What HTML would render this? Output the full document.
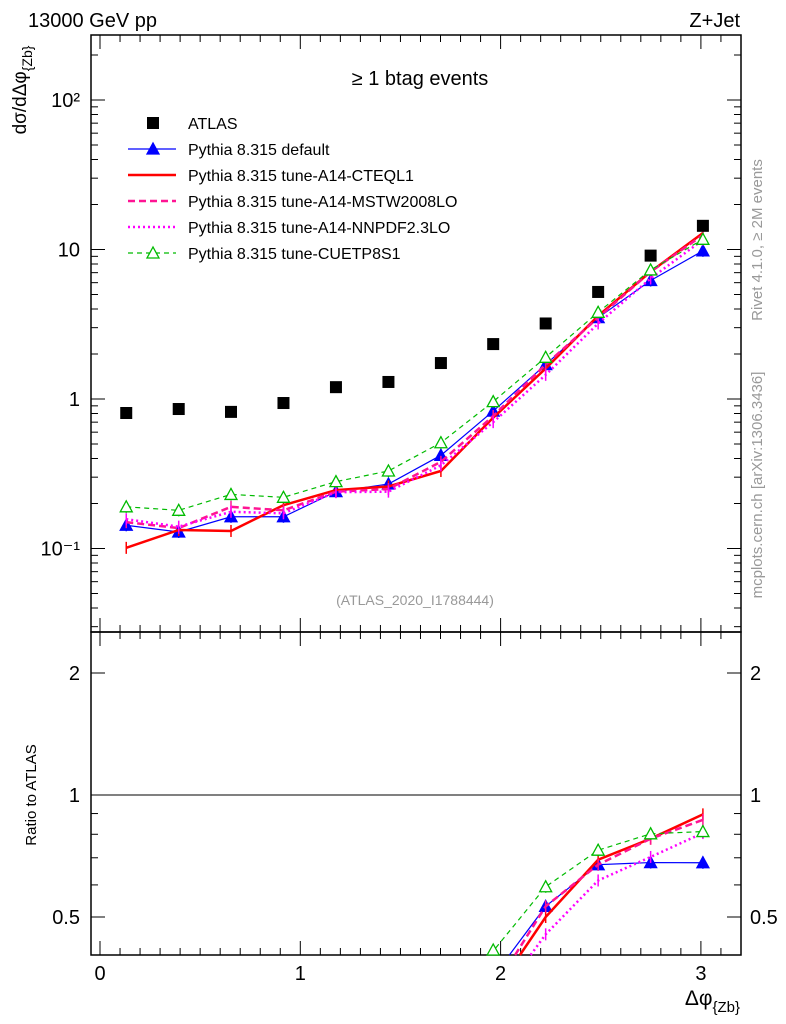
<!DOCTYPE html>
<html><head><meta charset="utf-8"><style>
html,body{margin:0;padding:0;background:#fff;width:786px;height:1024px;overflow:hidden}
svg{display:block;font-family:"Liberation Sans",sans-serif}
</style></head><body>
<svg id="c" width="786" height="1024" xmlns="http://www.w3.org/2000/svg">
<text x="28" y="27" font-size="20">13000 GeV pp</text>
<text x="740" y="27" font-size="20" text-anchor="end">Z+Jet</text>
<text x="420" y="85" font-size="20" text-anchor="middle">≥ 1 btag events</text>
<text x="415" y="605" font-size="14" fill="#999" text-anchor="middle">(ATLAS_2020_I1788444)</text>
<text transform="translate(762,240) rotate(-90)" font-size="15" fill="#999" text-anchor="middle">Rivet 4.1.0, ≥ 2M events</text>
<text transform="translate(762,485) rotate(-90)" font-size="15" fill="#999" text-anchor="middle">mcplots.cern.ch [arXiv:1306.3436]</text>
<text transform="translate(26,90) rotate(-90)" font-size="19" text-anchor="middle">dσ/dΔφ<tspan font-size="14" dy="6">{Zb}</tspan></text>
<text transform="translate(36,795) rotate(-90)" font-size="15" text-anchor="middle">Ratio to ATLAS</text>
<text x="740" y="1005" font-size="21" text-anchor="end">Δφ<tspan font-size="15" dy="7">{Zb}</tspan></text>
<g id="main"></g><g id="ratio"></g><g id="legend"></g>
</svg>
<script>
const xCenters=[0.131,0.393,0.654,0.916,1.178,1.44,1.702,1.963,2.225,2.487,2.749,3.01];
const atlas=[0.806,0.857,0.82,0.94,1.2,1.3,1.74,2.33,3.2,5.2,9.1,14.4];
const pyDefault=[0.143,0.129,0.163,0.163,0.24,0.27,0.42,0.83,1.7,3.5,6.2,9.8];
const pyCTEQL1=[0.101,0.133,0.131,0.195,0.246,0.26,0.33,0.75,1.6,3.6,7.1,12.9];
const pyMSTW=[0.15,0.137,0.19,0.18,0.24,0.25,0.38,0.77,1.7,3.5,7.1,12.5];
const pyNNPDF=[0.157,0.14,0.176,0.172,0.238,0.24,0.36,0.7,1.45,3.2,6.4,11.6];
const pyCUETP=[0.19,0.18,0.23,0.22,0.28,0.33,0.51,0.96,1.9,3.8,7.3,11.7];
const legendLabels=["ATLAS","Pythia 8.315 default","Pythia 8.315 tune-A14-CTEQL1","Pythia 8.315 tune-A14-MSTW2008LO","Pythia 8.315 tune-A14-NNPDF2.3LO","Pythia 8.315 tune-CUETP8S1"];
const xTicks=[0,1,2,3];
const yTicks=[0.1,1,10,100];
const yTickLabels=["10⁻¹","1","10","10²"];
const rTicks=[0.5,1,2];

const NS="http://www.w3.org/2000/svg";
const L=91,R=741,T=35,B=632,RT=632,RB=955;
const X=v=>100+(v)*200.3;
const Y=v=>399-Math.log10(v)*149.5;
const YR=v=>795-Math.log10(v)*405.3;
function mk(tag,at,parent){const e=document.createElementNS(NS,tag);for(const k in at)e.setAttribute(k,at[k]);parent.appendChild(e);return e;}
const main=document.getElementById('main'),ratio=document.getElementById('ratio'),leg=document.getElementById('legend');

let f=mk('rect',{x:L,y:T,width:R-L,height:B-T,fill:'none',stroke:'#000','stroke-width':1.5},main);

f=mk('rect',{x:L,y:RT,width:R-L,height:RB-RT,fill:'none',stroke:'#000','stroke-width':1.5},ratio);

let ln=mk('line',{x1:L,x2:R,y1:YR(1),y2:YR(1),stroke:'#000','stroke-width':1},ratio);


for(let v=0;v<=3.2;v+=0.1){const maj=Math.abs(v-Math.round(v))<1e-6;const len=maj?14:7;const x=X(v);
 for(const [y0,d] of [[B,-1],[T,1],[RB,-1],[RT,1]]) mk('line',{x1:x,x2:x,y1:y0,y2:y0+d*len,stroke:'#000'},main);}
xTicks.forEach(v=>{const t=mk('text',{x:X(v),y:980,'font-size':20,'text-anchor':'middle'},main);t.textContent=v;
 });
for(let d=-2;d<=2;d++)for(let m=1;m<10;m++){const v=m*Math.pow(10,d);const y=Y(v);if(y<T||y>B)continue;const len=m==1?14:7;
 mk('line',{x1:L,x2:L+len,y1:y,y2:y,stroke:'#000'},main);mk('line',{x1:R,x2:R-len,y1:y,y2:y,stroke:'#000'},main);}
yTicks.forEach((v,i)=>{const t=mk('text',{x:80,y:Y(v)+7,'font-size':20,'text-anchor':'end'},main);t.textContent=yTickLabels[i];
 });
[0.5,0.6,0.7,0.8,0.9,1,2].forEach(v=>{const y=YR(v);const len=(v==0.5||v==1||v==2)?14:7;
 mk('line',{x1:L,x2:L+len,y1:y,y2:y,stroke:'#000'},ratio);mk('line',{x1:R,x2:R-len,y1:y,y2:y,stroke:'#000'},ratio);});
rTicks.forEach(v=>{for(const [x,a] of [[80,'end'],[750,'start']]){const t=mk('text',{x:x,y:YR(v)+7,'font-size':20,'text-anchor':a},ratio);t.textContent=v;
 }});

const series=[
 {name:'default',d:pyDefault,col:'#0000ff',w:1.2,dash:'',mark:'tri'},
 {name:'cteql1',d:pyCTEQL1,col:'#ff0000',w:2.5,dash:'',mark:''},
 {name:'mstw',d:pyMSTW,col:'#ff1493',w:2.5,dash:'7,4',mark:''},
 {name:'nnpdf',d:pyNNPDF,col:'#ff00ff',w:2.5,dash:'2,3',mark:''},
 {name:'cuetp',d:pyCUETP,col:'#00bb00',w:1.2,dash:'5,4',mark:'otri'}];
function tri(g,x,y,col,open){return mk('polygon',{points:`${x},${y-6} ${x-6},${y+5} ${x+6},${y+5}`,fill:open?'#fff':col,stroke:col,'stroke-width':1.3},g);}
function clipLine(pts,ymax){const segs=[];let cur=[];
 for(let i=0;i<pts.length;i++){const p=pts[i];
  if(p[1]<=ymax){
   if(cur.length==0&&i>0&&pts[i-1][1]>ymax){const q=pts[i-1];const t=(ymax-q[1])/(p[1]-q[1]);cur.push([q[0]+t*(p[0]-q[0]),ymax]);}
   cur.push(p);
  }else if(cur.length){const q=pts[i-1];const t=(ymax-q[1])/(p[1]-q[1]);cur.push([q[0]+t*(p[0]-q[0]),ymax]);segs.push(cur);cur=[];}}
 if(cur.length)segs.push(cur);return segs;}
function draw(g,ys,ymax,tag){
 series.forEach(s=>{const grp=mk('g',{},g);
  
  const pts=xCenters.map((x,i)=>[X(x),ys(s,i)]);
  clipLine(pts,ymax).forEach(seg=>mk('polyline',{points:seg.map(p=>p.join(',')).join(' '),fill:'none',stroke:s.col,'stroke-width':s.w,'stroke-dasharray':s.dash},grp));
  pts.forEach(p=>{if(p[1]>ymax)return;
   mk('line',{x1:p[0],x2:p[0],y1:p[1]-6,y2:Math.min(p[1]+6,ymax),stroke:s.col,'stroke-width':1.5},grp);
   if(s.mark)tri(grp,p[0],Math.min(p[1],ymax-5),s.col,s.mark=='otri');});});}
draw(main,(s,i)=>Y(s.d[i]),B,'main');
draw(ratio,(s,i)=>YR(s.d[i]/atlas[i]),RB,'ratio');
atlas.forEach((v,i)=>{const r=mk('rect',{x:X(xCenters[i])-6,y:Y(v)-6,width:12,height:12,fill:'#000'},main);
 });

legendLabels.forEach((lab,i)=>{const y=123+i*26;const g=mk('g',{},leg);
 
 if(i==0)mk('rect',{x:147,y:y-6,width:12,height:12,fill:'#000'},g);
 else{const s=series[i-1];mk('line',{x1:128,x2:176,y1:y,y2:y,stroke:s.col,'stroke-width':s.w,'stroke-dasharray':s.dash},g);
  if(s.mark)tri(g,153,y,s.col,s.mark=='otri');}
 const t=mk('text',{x:188,y:y+6,'font-size':16},g);t.textContent=lab;});
</script>
</body></html>
